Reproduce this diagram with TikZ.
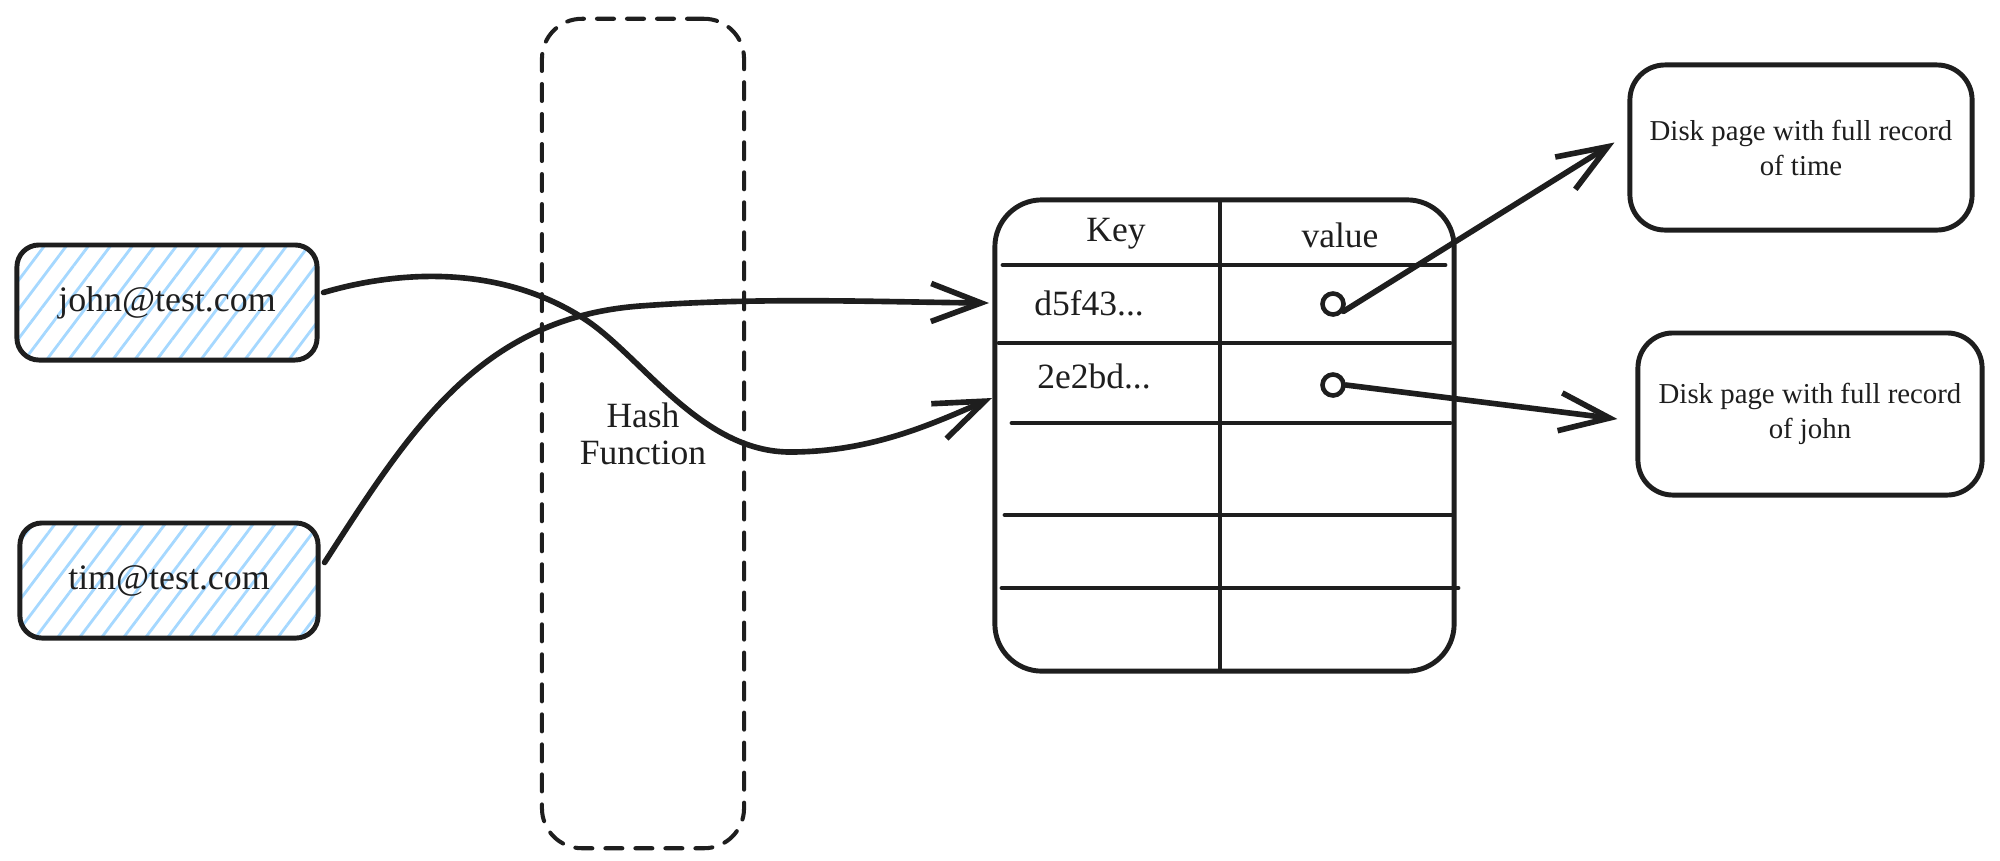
\documentclass[tikz,border=0pt]{standalone}
\usepackage{fontspec}
\setmainfont{Liberation Serif}
\usetikzlibrary{arrows.meta,patterns.meta,calc}
\definecolor{ink}{HTML}{1E1E1E}
\definecolor{hatch}{HTML}{A5D8FF}
\tikzset{
  inkline/.style={draw=ink, line width=1.4pt, line cap=round, line join=round},
  email/.style={inkline, rounded corners=0.22cm, minimum height=1.15cm,
    pattern={Lines[angle=53,distance=5pt,line width=0.8pt]}, pattern color=hatch,
    font=\fontsize{10.2}{12}\selectfont, text=ink},
  pagebox/.style={inkline, rounded corners=0.35cm, align=center,
    font=\fontsize{8.2}{9.95}\selectfont, text=ink},
  cell/.style={font=\fontsize{10.1}{12}\selectfont, text=ink, anchor=base, inner sep=0pt},
  link/.style={draw=ink, line width=1.6pt, line cap=round,
    -{Straight Barb[length=0.5cm, width=0.38cm]}},
  ptr/.style={circle, draw=ink, line width=1.3pt, minimum size=0.21cm, inner sep=0pt, fill=white},
}
\begin{document}
\begin{tikzpicture}[x=0.01cm, y=-0.01cm]
\path[fill=white, use as bounding box] (0,0) rectangle (2000,860);

% input keys
\node[email, minimum width=3.0cm] (john) at (167,302.5) {john@test.com};
\node[email, minimum width=2.98cm] (tim) at (169,580.5) {tim@test.com};

% hash function stage
\node[draw=ink, line width=1.15pt, dash pattern=on 0.17cm off 0.13cm, line cap=round,
      rounded corners=0.4cm, minimum width=2.02cm, minimum height=8.29cm,
      align=center, font=\fontsize{10.1}{10.5}\selectfont, text=ink]
      (hash) at (643,433.5) {Hash\\Function};

% hash table
\node[inkline, rounded corners=0.47cm, minimum width=4.59cm, minimum height=4.71cm] (tbl) at (1224.5,435.5) {};
\draw[inkline] (1220,203) -- (1220,670);
\draw[inkline] (1003,265) -- (1445,265);
\draw[inkline] (999,343) -- (1450,343);
\draw[inkline] (1012,423) -- (1450,423);
\draw[inkline] (1005,515) -- (1452,515);
\draw[inkline] (1002,588) -- (1458,588);

\node[cell] (keyhead) at (1116,241) {Key};
\node[cell] (valhead) at (1340,247) {value};
\node[cell] (k1) at (1089,315) {d5f43...};
\node[cell] (k2) at (1094,388) {2e2bd...};
\node[ptr] (c1) at (1333,304) {};
\node[ptr] (c2) at (1333,385) {};

% disk pages
\node[pagebox, minimum width=3.42cm, minimum height=1.65cm] (d1) at (1801,147.5)
  {Disk page with full record\\of time};
\node[pagebox, minimum width=3.44cm, minimum height=1.62cm] (d2) at (1810,414)
  {Disk page with full record\\of john};

% arrow entry points on the table edge
\coordinate (in1) at (989,303);
\coordinate (in2) at (992,398);

% hashed keys into the table
\draw[link] ($(tim.east)+(4,-18)$) .. controls (410,430) and (480,318) .. (640,306)
  .. controls (760,297) and (880,302) .. (in1);
\draw[link] ($(john.east)+(5,-10)$) .. controls (400,270) and (500,265) .. (583,318)
  .. controls (640,354) and (700,452) .. (790,452)
  .. controls (870,452) and (930,425) .. (in2);

% pointers to disk pages
\draw[link] (c1.-35) -- ($(d1.west)+(-13,-5)$);
\draw[link] (c2.east) -- ($(d2.west)+(-18,5)$);
\end{tikzpicture}
\end{document}
